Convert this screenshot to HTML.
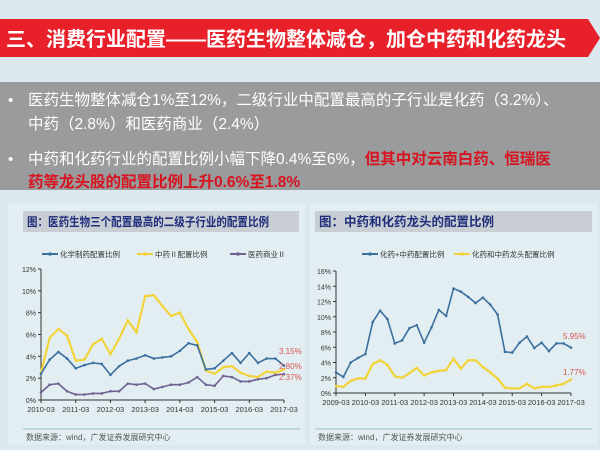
<!DOCTYPE html>
<html><head><meta charset="utf-8">
<style>
html,body{margin:0;padding:0;width:600px;height:450px;overflow:hidden;background:#dbe9ef;font-family:"Liberation Sans","Noto Sans CJK SC",sans-serif;}
.abs{position:absolute}
</style></head><body>
<svg width="600" height="450" class="abs" style="left:0;top:0" id="s" font-family="Liberation Sans, Noto Sans CJK SC, sans-serif">
<polygon points="0,19 588,19 600,38 588,57 0,57" fill="#e8202a"/>
<text x="6" y="46" fill="#fff" font-size="20" font-weight="bold">三、消费行业配置——医药生物整体减仓，加仓中药和化药龙头</text>
<rect x="0" y="82" width="600" height="108" fill="#999b9d"/>
<text x="8" y="105" fill="#fff" font-size="15">•</text>
<text x="28" y="105" fill="#fff" font-size="15.5">医药生物整体减仓1%至12%，二级行业中配置最高的子行业是化药（3.2%）、</text>
<text x="28" y="129" fill="#fff" font-size="15.5">中药（2.8%）和医药商业（2.4%）</text>
<text x="8" y="164" fill="#fff" font-size="15">•</text>
<text x="28" y="164" fill="#fff" font-size="15.5">中药和化药行业的配置比例小幅下降0.4%至6%，<tspan fill="#d8131f" font-weight="bold">但其中对云南白药、恒瑞医</tspan></text>
<text x="28" y="187" fill="#d8131f" font-size="15.5" font-weight="bold">药等龙头股的配置比例上升0.6%至1.8%</text>
<rect x="8" y="203" width="297" height="242" fill="#e3eef2"/>
<rect x="310" y="203" width="288" height="242" fill="#e3eef2"/>
<rect x="23" y="211" width="276" height="21" fill="#c9ced4"/>
<text x="27" y="226" fill="#1f2d7a" font-size="12" font-weight="bold" textLength="242" lengthAdjust="spacingAndGlyphs">图：医药生物三个配置最高的二级子行业的配置比例</text>
<rect x="315" y="211" width="277" height="21" fill="#c9ced4"/>
<text x="319" y="226" fill="#1f2d7a" font-size="12.5" font-weight="bold">图：中药和化药龙头的配置比例</text>
<line x1="23" y1="429" x2="300" y2="429" stroke="#8fc0c8" stroke-width="1"/>
<line x1="315" y1="429" x2="592" y2="429" stroke="#8fc0c8" stroke-width="1"/>
<text x="26" y="440" fill="#555" font-size="8">数据来源：wind，广发证券发展研究中心</text>
<text x="318" y="440" fill="#555" font-size="8">数据来源：wind，广发证券发展研究中心</text>
<g id="g"></g>
</svg>
<script>
const g=document.getElementById('g');let h='';
function chart(x0,x1,yTop,y0,max,step,labels,series,ann){
 const yv=v=>y0-(v/max)*(y0-yTop);
 for(let v=0;v<=max;v+=step){const y=yv(v);
  h+=`<line x1="${x0-3}" y1="${y}" x2="${x0}" y2="${y}" stroke="#333"/>`;
  h+=`<text x="${x0-5}" y="${y+3}" font-size="7" text-anchor="end" fill="#333">${v}%</text>`;}
 h+=`<line x1="${x0}" y1="${yTop}" x2="${x0}" y2="${y0}" stroke="#333"/><line x1="${x0}" y1="${y0}" x2="${x1}" y2="${y0}" stroke="#333"/>`;
 const n=labels.length-1;
 labels.forEach((l,i)=>{const x=x0+(x1-x0)*i/n;h+=`<line x1="${x}" y1="${y0}" x2="${x}" y2="${y0+3}" stroke="#333"/><text x="${x}" y="${y0+12}" font-size="7.5" text-anchor="middle" fill="#333">${l}</text>`;});
 series.forEach(s=>{const m=s.d.length-1;const pts=s.d.map((v,i)=>[x0+(x1-x0)*i/m,yv(v)]);
  h+=`<polyline points="${pts.map(p=>p.join(',')).join(' ')}" fill="none" stroke="${s.c}" stroke-width="${s.w}"/>`;
  pts.forEach(p=>h+=`<circle cx="${p[0]}" cy="${p[1]}" r="1.3" fill="${s.c}"/>`);});
 ann.forEach(a=>h+=`<text x="${a[0]}" y="${a[1]}" font-size="8" fill="#d9534f">${a[2]}</text>`);
}
chart(41,284,269,400,12,2,['2010-03','2011-03','2012-03','2013-03','2014-03','2015-03','2016-03','2017-03'],[
{c:'#f2d43a',w:2.2,d:[2.5,5.7,6.5,5.9,3.6,3.7,5.1,5.6,4.2,5.6,7.3,6.2,9.5,9.6,8.6,7.7,8.0,6.5,5.3,2.7,2.4,3.0,3.1,2.5,2.2,2.1,2.6,2.5,2.8]},
{c:'#3a6f9e',w:1.6,d:[2.4,3.7,4.4,3.8,2.9,3.2,3.4,3.3,2.3,3.1,3.6,3.8,4.1,3.8,3.9,4.0,4.5,5.2,5.0,2.8,2.9,3.6,4.3,3.4,4.3,3.4,3.8,3.8,3.15]},
{c:'#6f6191',w:1.6,d:[0.7,1.4,1.5,0.8,0.5,0.5,0.6,0.6,0.8,0.8,1.5,1.4,1.5,1.0,1.2,1.4,1.4,1.6,2.1,1.4,1.3,2.2,2.1,1.7,1.7,1.9,2.0,2.3,2.37]}],
[[279,354,'3.15%'],[279,369,'2.80%'],[279,380,'2.37%']]);
chart(336,571,271,393,16,2,['2009-03','2010-03','2011-03','2012-03','2013-03','2014-03','2015-03','2016-03','2017-03'],[
{c:'#3a6f9e',w:1.6,d:[2.7,2.1,4.0,4.6,5.1,9.3,10.8,9.7,6.5,6.9,8.5,8.9,6.6,8.6,10.9,10.1,13.7,13.3,12.6,11.8,12.5,11.6,10.3,5.4,5.3,6.6,7.4,5.9,6.6,5.5,6.5,6.5,5.95]},
{c:'#f2d43a',w:2.2,d:[0.9,0.8,1.6,1.9,1.9,3.8,4.3,3.7,2.2,2.0,2.6,3.3,2.3,2.7,2.9,3.0,4.5,3.2,4.3,4.3,3.4,2.7,1.9,0.7,0.6,0.6,1.2,0.6,0.8,0.8,1.0,1.2,1.77]}],
[[563,339,'5.95%'],[563,375,'1.77%']]);
function leg(x,y,c,t){h+=`<line x1="${x}" y1="${y}" x2="${x+16}" y2="${y}" stroke="${c}" stroke-width="2"/><circle cx="${x+8}" cy="${y}" r="1.8" fill="${c}"/><text x="${x+18}" y="${y+3}" font-size="7.5" fill="#333">${t}</text>`;}
leg(42,254,'#3a6f9e','化学制药配置比例');leg(137,254,'#f2d43a','中药Ⅱ配置比例');leg(230,254,'#6f6191','医药商业Ⅱ');
leg(362,254,'#3a6f9e','化药+中药配置比例');leg(454,254,'#f2d43a','化药和中药龙头配置比例');
g.innerHTML=h;
</script>
</body></html>
